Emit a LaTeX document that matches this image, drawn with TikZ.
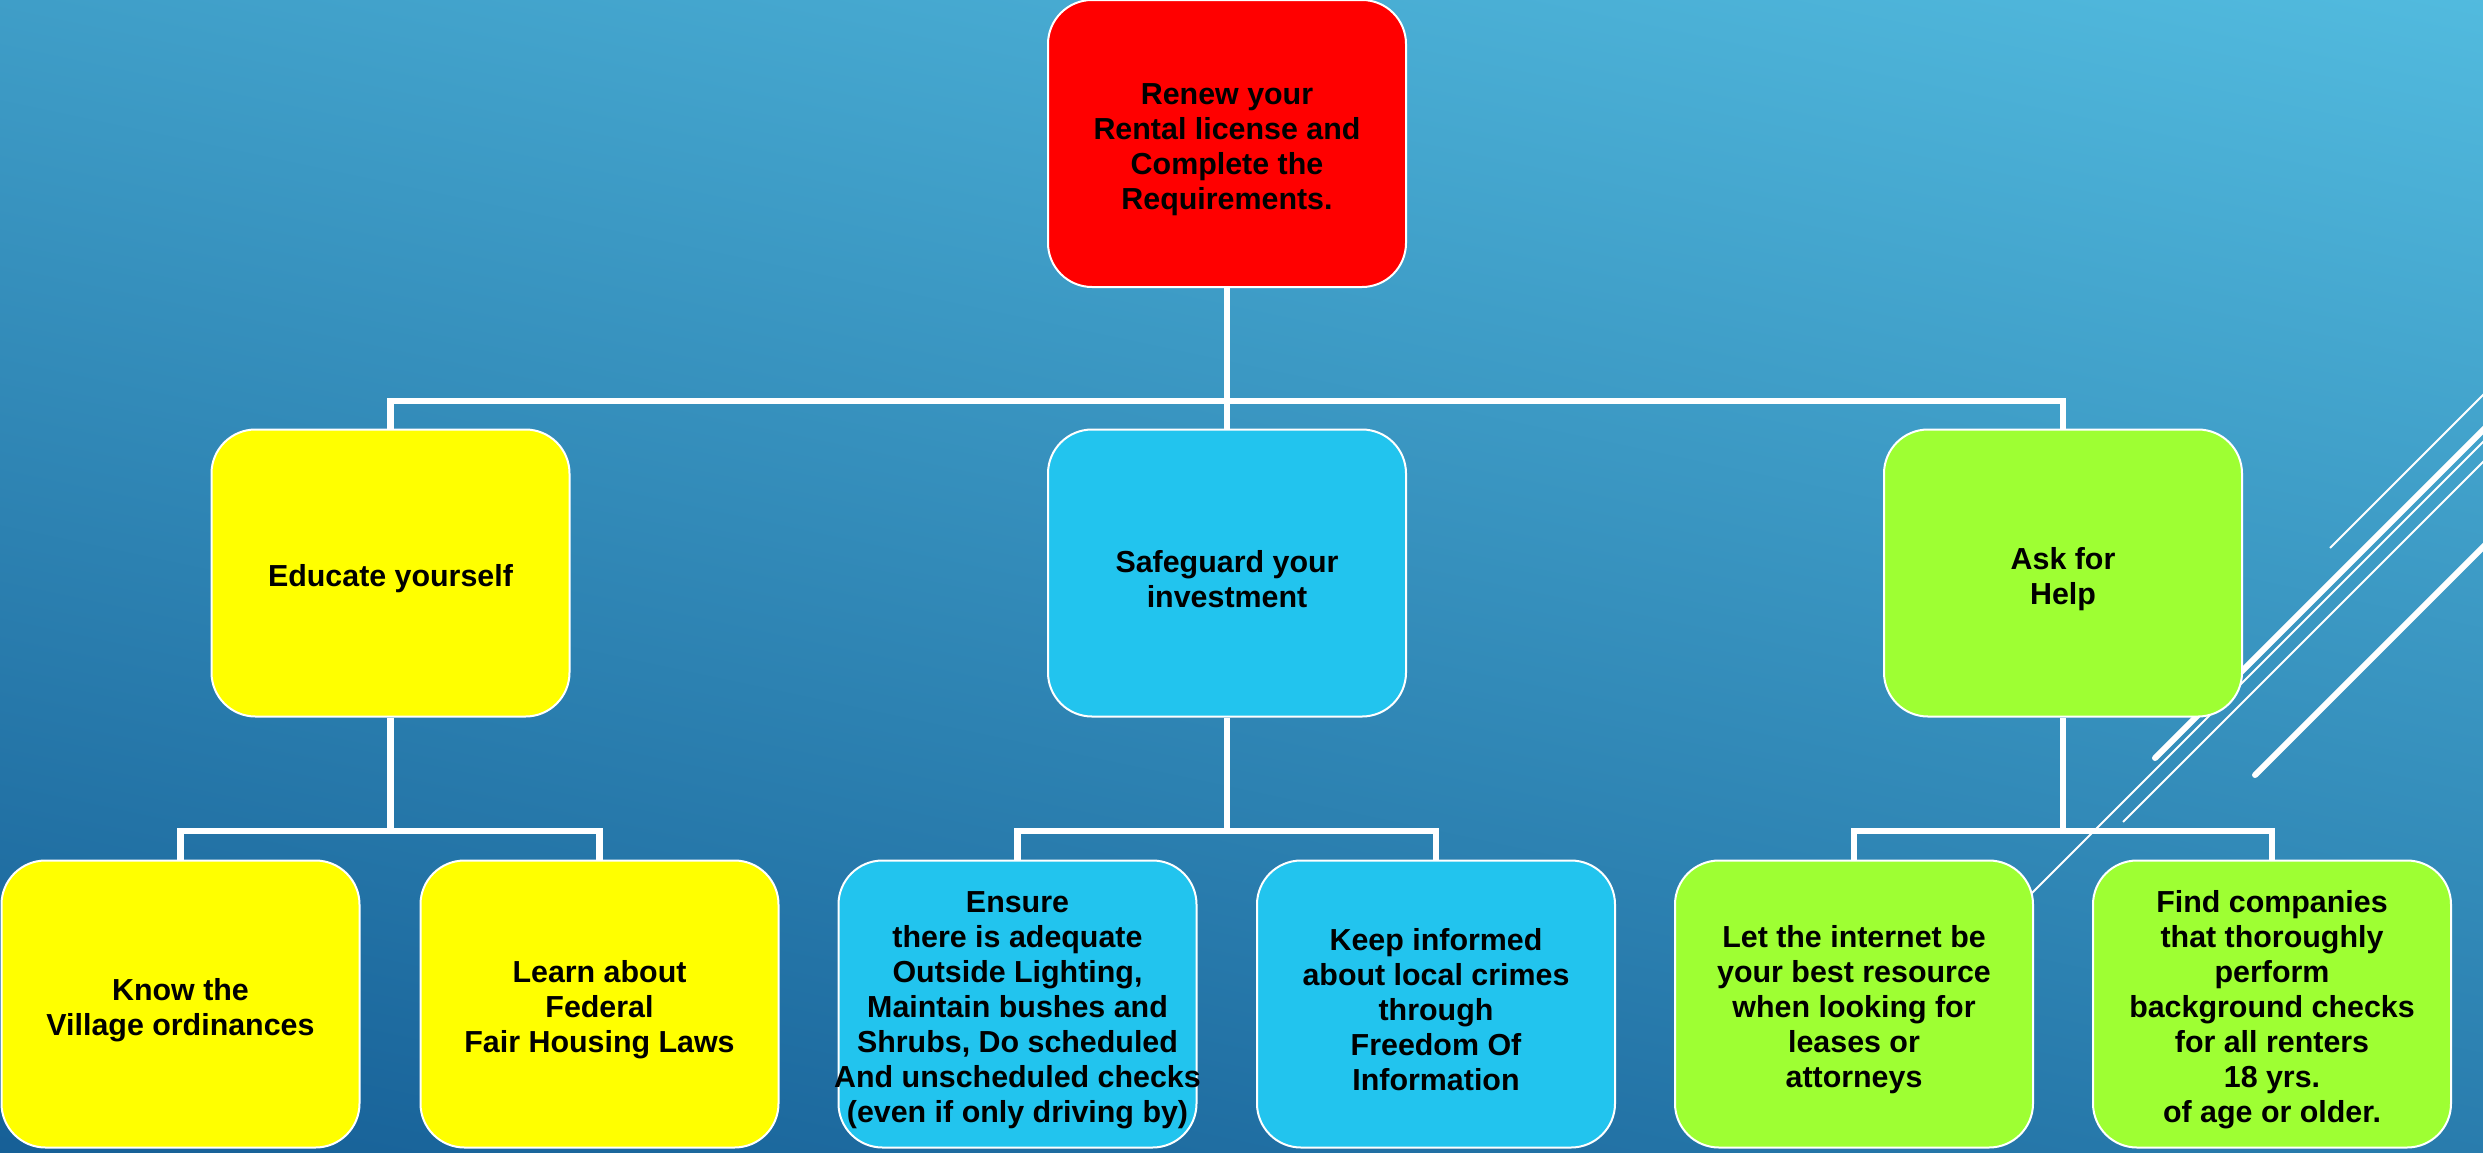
\documentclass[tikz,border=0pt]{standalone}
\usepackage{fontspec}
\setmainfont{Liberation Sans}
\definecolor{bgtop}{RGB}{84,190,225}
\definecolor{bgbot}{RGB}{20,92,148}
\definecolor{boxred}{RGB}{255,0,0}
\definecolor{boxyellow}{RGB}{255,255,0}
\definecolor{boxcyan}{RGB}{34,196,238}
\definecolor{boxgreen}{RGB}{158,255,51}
\begin{document}
\begin{tikzpicture}[x=0.5pt,y=-0.5pt,
  box/.style={draw=white, line width=1pt, rounded corners=22pt,
    minimum width=179pt, minimum height=143.5pt, inner sep=0pt},
  txt/.style={align=center, text=black, inner sep=0pt, yshift=-3pt,
    font=\fontsize{15.2}{17.5}\selectfont\bfseries},
  conn/.style={draw=white, line width=3.2pt},
  thinline/.style={draw=white, line width=1pt},
  thickline/.style={draw=white, line width=3pt, line cap=round}]
\useasboundingbox (0,0) rectangle (2483,1152);
\shade[top color=bgtop, bottom color=bgbot, shading angle=-12] (-200,-200) rectangle (2683,1352);
\begin{scope}
\clip (0,0) rectangle (2483,1152);
\draw[thinline] (2330,548) -- (2530,348);
\draw[thickline] (2155,758) -- (2530,383);
\draw[thinline] (2000,925) -- (2530,395);
\draw[thinline] (2123,822) -- (2530,415);
\draw[thickline] (2255,775) -- (2530,500);
\end{scope}

\node[box, fill=boxred, label={[txt]center:{Renew your\\Rental license and\\Complete the\\Requirements.}}] (top) at (1227,143.5) {};

\node[box, fill=boxyellow, label={[txt]center:{Educate yourself}}] (m1) at (390.5,573) {};
\node[box, fill=boxcyan, label={[txt]center:{Safeguard your\\investment}}] (m2) at (1227,573) {};
\node[box, fill=boxgreen, label={[txt]center:{Ask for\\Help}}] (m3) at (2063,573) {};

\node[box, fill=boxyellow, label={[txt]center:{Know the\\Village ordinances}}] (c1) at (180.5,1004) {};
\node[box, fill=boxyellow, label={[txt]center:{Learn about\\Federal\\Fair Housing Laws}}] (c2) at (599.5,1004) {};
\node[box, fill=boxcyan, label={[txt]center:{Ensure\\there is adequate\\Outside Lighting,\\Maintain bushes and\\Shrubs, Do scheduled\\And unscheduled checks\\(even if only driving by)}}] (c3) at (1017.5,1004) {};
\node[box, fill=boxcyan, label={[txt]center:{Keep informed\\about local crimes\\through\\Freedom Of\\Information}}] (c4) at (1436,1004) {};
\node[box, fill=boxgreen, label={[txt]center:{Let the internet be\\your best resource\\when looking for\\leases or\\attorneys}}] (c5) at (1854,1004) {};
\node[box, fill=boxgreen, label={[txt]center:{Find companies\\that thoroughly\\perform\\background checks\\for all renters\\18 yrs.\\of age or older.}}] (c6) at (2272,1004) {};

\coordinate (j0) at (1227,401);
\coordinate (j1) at (390.5,831);
\coordinate (j2) at (1227,831);
\coordinate (j3) at (2063,831);

\draw[conn] (top.south) -- (j0);
\draw[conn] (m1.north) |- (j0) -| (m3.north);
\draw[conn] (j0) -- (m2.north);

\draw[conn] (m1.south) -- (j1);
\draw[conn] (c1.north) |- (j1) -| (c2.north);
\draw[conn] (m2.south) -- (j2);
\draw[conn] (c3.north) |- (j2) -| (c4.north);
\draw[conn] (m3.south) -- (j3);
\draw[conn] (c5.north) |- (j3) -| (c6.north);
\end{tikzpicture}
\end{document}
